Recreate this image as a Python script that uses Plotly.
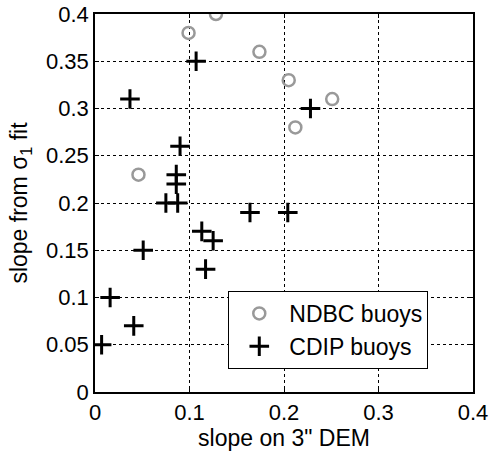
import plotly.graph_objects as go

ndbc_x = [0.099, 0.128, 0.174, 0.205, 0.212, 0.251, 0.046]
ndbc_y = [0.38, 0.40, 0.36, 0.33, 0.28, 0.31, 0.23]

cdip_x = [0.107, 0.037, 0.228, 0.090, 0.086, 0.086, 0.075, 0.0875, 0.164, 0.204,
          0.113, 0.125, 0.051, 0.117, 0.016, 0.041, 0.007]
cdip_y = [0.35, 0.31, 0.30, 0.26, 0.23, 0.22, 0.20, 0.20, 0.19, 0.19,
          0.17, 0.16, 0.15, 0.13, 0.10, 0.07, 0.05]

x_ticks = [0, 0.1, 0.2, 0.3, 0.4]
x_ticklabels = ["0", "0.1", "0.2", "0.3", "0.4"]
y_ticks = [0, 0.05, 0.1, 0.15, 0.2, 0.25, 0.3, 0.35, 0.4]
y_ticklabels = ["0", "0.05", "0.1", "0.15", "0.2", "0.25", "0.3", "0.35", "0.4"]

FONT = "Liberation Sans, Arial, Helvetica, sans-serif"

fig = go.Figure()
fig.add_trace(go.Scatter(
    x=ndbc_x, y=ndbc_y, mode="markers", name="NDBC buoys",
    marker=dict(symbol="circle-open", size=12, color="#999999",
                line=dict(width=2.5, color="#999999")),
))
fig.add_trace(go.Scatter(
    x=cdip_x, y=cdip_y, mode="markers", name="CDIP buoys",
    marker=dict(symbol="cross-thin-open", size=14, color="black",
                line=dict(width=3, color="black")),
))

axis_common = dict(
    showgrid=True, gridcolor="black", griddash="dot", gridwidth=1,
    showline=True, linecolor="black", linewidth=1.5, mirror="ticks",
    ticks="inside", ticklen=4, tickcolor="black", tickwidth=1,
    zeroline=False, tickfont=dict(size=22, color="black", family=FONT),
)

fig.update_xaxes(
    range=[0, 0.4], tickvals=x_ticks, ticktext=x_ticklabels,
    title=dict(text="slope on 3\" DEM", font=dict(size=23, color="black", family=FONT), standoff=4),
    **axis_common,
)
fig.update_yaxes(
    range=[0, 0.4], tickvals=y_ticks, ticktext=y_ticklabels,
    title=dict(text="slope from σ<sub>1</sub> fit", font=dict(size=23, color="black", family=FONT), standoff=12),
    **axis_common,
)

fig.update_layout(
    width=490, height=451,
    margin=dict(l=95, r=17, t=14, b=59, autoexpand=False),
    plot_bgcolor="white", paper_bgcolor="white",
    font=dict(family=FONT, size=22, color="black"),
    legend=dict(
        x=0.8817, y=0.061, xanchor="right", yanchor="bottom",
        bgcolor="white", bordercolor="black", borderwidth=1,
        font=dict(size=23, color="black", family=FONT),
        itemwidth=50, tracegroupgap=0,
    ),
)

fig.write_html("out.html")
